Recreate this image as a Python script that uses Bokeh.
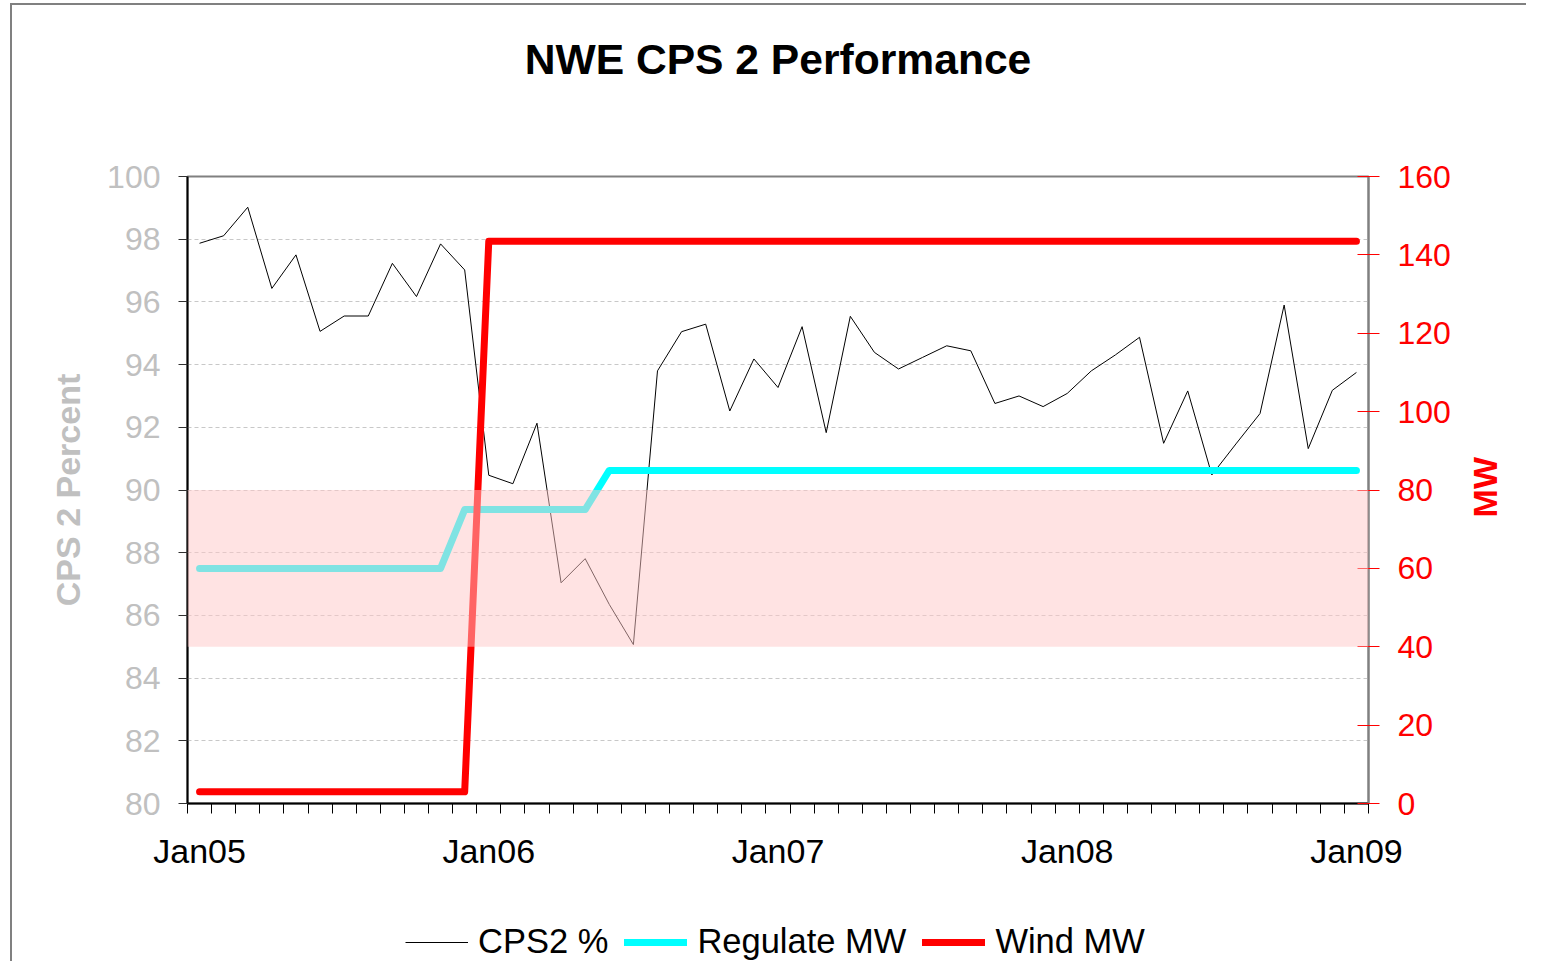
import math
import numpy as np
from bokeh.plotting import figure
from bokeh.layouts import column
from bokeh.models import (Range1d, LinearAxis, FixedTicker, BoxAnnotation, Legend, LegendItem,
                          Title)
from bokeh.embed import file_html
from bokeh.resources import INLINE

# ---------------- data ----------------
months = list(range(49))  # Jan05 .. Jan09, monthly
cps2 = [97.87, 98.11, 99.02, 96.43, 97.50, 95.06, 95.55, 95.55, 97.23, 96.17, 97.85, 97.02,
        90.47, 90.20, 92.13, 87.04, 87.81, 86.35, 85.07, 93.80, 95.05, 95.29, 92.52, 94.18,
        93.27, 95.21, 91.83, 95.54, 94.39, 93.86, 94.23, 94.60, 94.44, 92.76, 93.00, 92.66,
        93.08, 93.80, 94.31, 94.87, 91.49, 93.16, 90.48, 91.47, 92.44, 95.90, 91.32, 93.18,
        93.75]
regulate_mw = [60, 60, 60, 60, 60, 60, 60, 60, 60, 60, 60, 75,
               75, 75, 75, 75, 75, 85, 85, 85, 85, 85, 85, 85,
               85, 85, 85, 85, 85, 85, 85, 85, 85, 85, 85, 85,
               85, 85, 85, 85, 85, 85, 85, 85, 85, 85, 85, 85,
               85]
wind_mw = [3, 3, 3, 3, 3, 3, 3, 3, 3, 3, 3, 3,
           143.5, 143.5, 143.5, 143.5, 143.5, 143.5, 143.5, 143.5, 143.5, 143.5, 143.5, 143.5,
           143.5, 143.5, 143.5, 143.5, 143.5, 143.5, 143.5, 143.5, 143.5, 143.5, 143.5, 143.5,
           143.5, 143.5, 143.5, 143.5, 143.5, 143.5, 143.5, 143.5, 143.5, 143.5, 143.5, 143.5,
           143.5]
year_ticks = [0, 12, 24, 36, 48]
year_labels = ["Jan05", "Jan06", "Jan07", "Jan08", "Jan09"]
left_ticks = [80, 82, 84, 86, 88, 90, 92, 94, 96, 98, 100]
right_ticks = [0, 20, 40, 60, 80, 100, 120, 140, 160]
band_low, band_high = 85, 90
series_names = ["CPS2 %", "Regulate MW", "Wind MW"]
right_title = "MW"

FONT = "Liberation Sans"
CYAN = "#00FFFF"
RED = "#FF0000"

W = 1514
H_MAIN = 895
H_LEG = 61

p = figure(width=W, height=H_MAIN, output_backend="svg", toolbar_location=None,
           x_range=Range1d(-0.5, 48.5), y_range=Range1d(80, 100),
           min_border_left=175, min_border_right=158, min_border_top=171, min_border_bottom=97,
           title="NWE CPS 2 Performance")
p.extra_y_ranges = {"mw": Range1d(0, 160)}

p.title.text_font = FONT
p.title.text_font_size = "42.6px"
p.title.text_font_style = "bold"
p.title.text_color = "black"
p.title.align = "center"
p.title.standoff = 10
# spacer between plot area and title
p.add_layout(Title(text=" ", text_font_size="2px", standoff=85), "above")

p.outline_line_color = "#808080"
p.outline_line_width = 2
p.background_fill_color = "white"
p.border_fill_color = "white"

# x axis
xa = p.xaxis[0]
xa.ticker = FixedTicker(ticks=year_ticks, minor_ticks=list(np.arange(-0.5, 49, 1.0)))
xa.major_label_overrides = {t: l for t, l in zip(year_ticks, year_labels)}
xa.major_tick_out = 0
xa.major_tick_in = 0
xa.minor_tick_out = 10
xa.minor_tick_in = 0
xa.minor_tick_line_color = "black"
xa.axis_line_color = "black"
xa.axis_line_width = 2
xa.major_label_text_font = FONT
xa.major_label_text_font_size = "34px"
xa.major_label_text_color = "black"
xa.major_label_standoff = 18
p.xgrid.visible = False

# left axis
ya = p.yaxis[0]
ya.ticker = FixedTicker(ticks=left_ticks)
ya.major_tick_out = 9
ya.major_tick_in = 0
ya.minor_tick_out = 0
ya.minor_tick_in = 0
ya.major_tick_line_color = "#303030"
ya.axis_line_color = "black"
ya.axis_line_width = 2
ya.major_label_text_font = FONT
ya.major_label_text_font_size = "32px"
ya.major_label_text_color = "#c0c0c0"
ya.major_label_standoff = 18
ya.axis_label = "CPS 2 Percent"
ya.axis_label_text_font = FONT
ya.axis_label_text_font_size = "34px"
ya.axis_label_text_font_style = "bold"
ya.axis_label_text_color = "#c0c0c0"
ya.axis_label_standoff = 17

p.ygrid.ticker = FixedTicker(ticks=left_ticks)
p.ygrid.grid_line_color = "#c8c8c8"
p.ygrid.grid_line_dash = "4 3"
p.ygrid.grid_line_width = 1

# right axis (MW)
ra = LinearAxis(y_range_name="mw", ticker=FixedTicker(ticks=right_ticks))
ra.major_tick_in = 11
ra.major_tick_out = 11
ra.major_tick_line_color = "red"
ra.minor_tick_out = 0
ra.minor_tick_in = 0
ra.axis_line_color = "#808080"
ra.axis_line_width = 2
ra.major_label_text_font = FONT
ra.major_label_text_font_size = "32px"
ra.major_label_text_color = "red"
ra.major_label_standoff = 18
p.add_layout(ra, "right")

# right axis title, reading bottom-to-top (as one rotated label of an outer axis)
mw_anchor = 73
ra2 = LinearAxis(y_range_name="mw", ticker=FixedTicker(ticks=[mw_anchor]))
ra2.major_label_overrides = {mw_anchor: right_title}
ra2.major_label_orientation = math.pi / 2
ra2.major_tick_in = 0
ra2.major_tick_out = 0
ra2.minor_tick_in = 0
ra2.minor_tick_out = 0
ra2.axis_line_color = None
ra2.major_label_text_font = FONT
ra2.major_label_text_font_size = "34px"
ra2.major_label_text_font_style = "bold"
ra2.major_label_text_color = "red"
ra2.major_label_standoff = 32
p.add_layout(ra2, "right")

# series
p.line(months, cps2, line_color="black", line_width=1)
p.line(months, regulate_mw, y_range_name="mw", line_color=CYAN, line_width=7,
       line_cap="round", line_join="round")
p.line(months, wind_mw, y_range_name="mw", line_color=RED, line_width=7,
       line_cap="round", line_join="round")

# target band
band = BoxAnnotation(bottom=band_low, top=band_high, fill_color=(255, 200, 200), fill_alpha=0.5,
                     line_color=None)
p.add_layout(band)

# ---------------- legend strip ----------------
pl = figure(width=W, height=H_LEG, output_backend="svg", toolbar_location=None,
            title_location=None, x_axis_type=None, y_axis_type=None,
            x_range=Range1d(0, 1), y_range=Range1d(0, 1), min_border=0)
pl.outline_line_color = None
pl.grid.visible = False
nan = float("nan")
l1 = pl.line(x=[nan], y=[nan], line_color="black", line_width=1)
l2 = pl.line(x=[nan], y=[nan], line_color=CYAN, line_width=7, line_cap="round")
l3 = pl.line(x=[nan], y=[nan], line_color=RED, line_width=7, line_cap="round")
legend = Legend(items=[LegendItem(label=n, renderers=[r]) for n, r in zip(series_names, [l1, l2, l3])],
                orientation="horizontal", location=(218, 0),
                label_text_font=FONT, label_text_font_size="34.5px", label_text_color="black",
                glyph_width=63, glyph_height=36, label_standoff=10, spacing=16,
                padding=0, margin=0, border_line_color=None, background_fill_alpha=0)
pl.add_layout(legend, "center")

layout = column(p, pl, spacing=0,
                styles={"margin-left": "10px", "margin-top": "3px",
                        "border-left": "2px solid #808080", "border-top": "2px solid #808080"})
open("out.html", "w").write(file_html(layout, INLINE))
